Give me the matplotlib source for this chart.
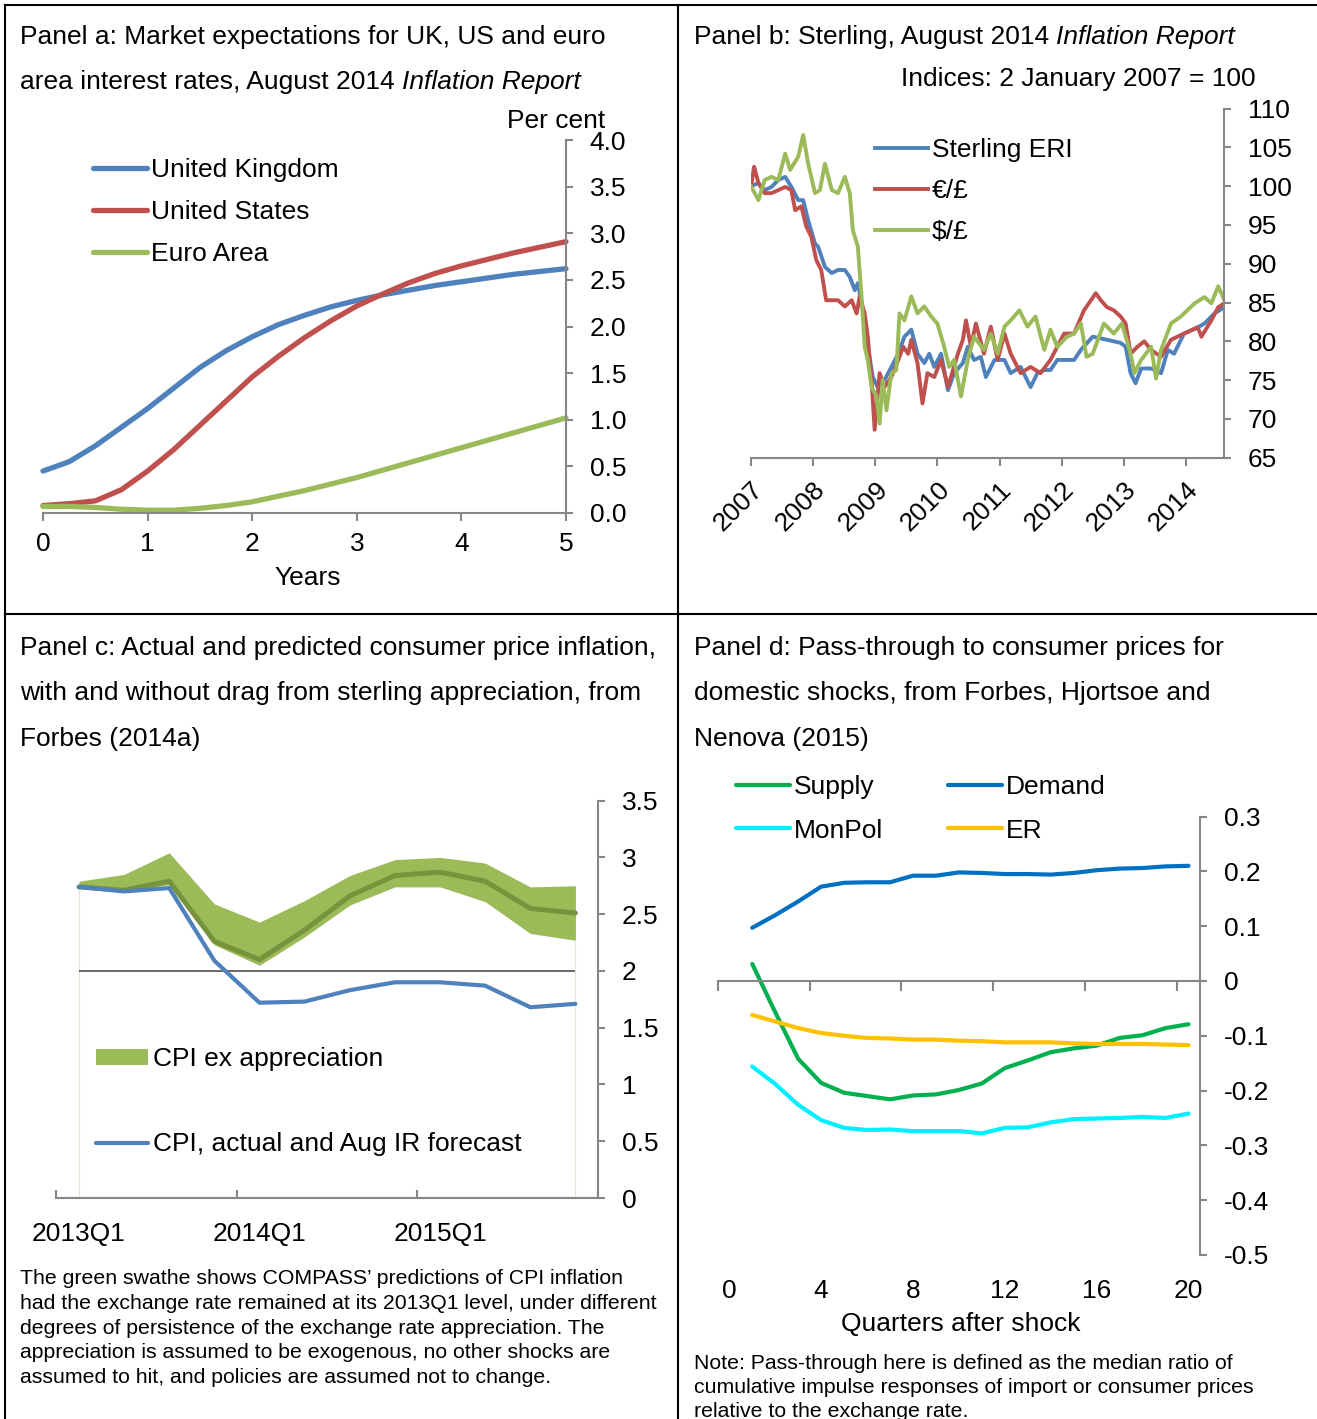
import matplotlib
matplotlib.use('Agg')
import matplotlib.pyplot as plt
from matplotlib.lines import Line2D
from matplotlib.ticker import FuncFormatter

plt.rcParams['font.family'] = ['Liberation Sans', 'DejaVu Sans']
plt.rcParams['axes.unicode_minus'] = False

# ---------------- data ----------------
# Panel a: market expectations (per cent), years ahead
years_a = [0, 0.25, 0.5, 0.75, 1, 1.25, 1.5, 1.75, 2, 2.25, 2.5, 2.75, 3,
           3.25, 3.5, 3.75, 4, 4.25, 4.5, 4.75, 5]
uk_rate = [0.45, 0.55, 0.72, 0.92, 1.12, 1.34, 1.56, 1.74, 1.89, 2.02, 2.12,
           2.21, 2.28, 2.34, 2.39, 2.44, 2.48, 2.52, 2.56, 2.59, 2.62]
us_rate = [0.08, 0.10, 0.13, 0.25, 0.45, 0.68, 0.94, 1.20, 1.46, 1.68, 1.88,
           2.06, 2.22, 2.35, 2.47, 2.57, 2.65, 2.72, 2.79, 2.85, 2.91]
ea_rate = [0.07, 0.07, 0.06, 0.04, 0.03, 0.03, 0.05, 0.08, 0.12, 0.18, 0.24,
           0.31, 0.38, 0.46, 0.54, 0.62, 0.70, 0.78, 0.86, 0.94, 1.02]

# Panel b: sterling indices (2 Jan 2007 = 100), decimal years
eri_t = [2007.00, 2007.12, 2007.22, 2007.33, 2007.44, 2007.55, 2007.65, 2007.76,
         2007.84, 2007.92, 2008.03, 2008.08, 2008.19, 2008.30, 2008.40, 2008.51,
         2008.59, 2008.67, 2008.72, 2008.80, 2008.88, 2008.96, 2009.04, 2009.15,
         2009.26, 2009.37, 2009.47, 2009.58, 2009.68, 2009.79, 2009.87, 2009.95,
         2010.06, 2010.17, 2010.27, 2010.41, 2010.49, 2010.59, 2010.70, 2010.78,
         2010.92, 2011.08, 2011.18, 2011.34, 2011.50, 2011.61, 2011.72, 2011.82,
         2011.93, 2012.09, 2012.20, 2012.31, 2012.50, 2012.73, 2012.95, 2013.03,
         2013.11, 2013.19, 2013.28, 2013.44, 2013.60, 2013.71, 2013.81, 2013.97,
         2014.19, 2014.30, 2014.46, 2014.62]
eri = [100.0, 100.4, 99.5, 99.9, 100.8, 101.2, 99.9, 98.2, 98.2, 95.6, 92.6, 92.2,
       89.6, 88.8, 89.2, 89.2, 88.3, 86.6, 87.5, 84.0, 79.3, 75.4, 74.1, 75.0,
       76.7, 78.4, 80.6, 81.5, 78.4, 77.2, 78.4, 76.7, 78.4, 73.7, 75.9, 77.2,
       79.3, 77.6, 78.0, 75.4, 77.6, 77.6, 75.9, 76.7, 74.1, 75.9, 76.3, 76.3,
       77.6, 77.6, 77.6, 78.9, 80.6, 80.2, 79.8, 79.3, 75.9, 74.6, 76.5, 76.5,
       75.9, 78.9, 78.4, 81.0, 81.8, 82.3, 83.6, 84.4]

eur_t = [2007.00, 2007.05, 2007.12, 2007.22, 2007.33, 2007.44, 2007.55, 2007.65,
         2007.71, 2007.81, 2007.89, 2007.97, 2008.05, 2008.13, 2008.21, 2008.30,
         2008.40, 2008.51, 2008.62, 2008.70, 2008.75, 2008.83, 2008.88, 2008.94,
         2008.99, 2009.07, 2009.15, 2009.26, 2009.37, 2009.45, 2009.53, 2009.58,
         2009.68, 2009.76, 2009.84, 2009.95, 2010.06, 2010.17, 2010.33, 2010.41,
         2010.46, 2010.54, 2010.62, 2010.75, 2010.86, 2010.97, 2011.08, 2011.18,
         2011.34, 2011.50, 2011.66, 2011.82, 2011.93, 2012.04, 2012.20, 2012.36,
         2012.55, 2012.63, 2012.73, 2012.84, 2012.95, 2013.03, 2013.11, 2013.22,
         2013.33, 2013.44, 2013.60, 2013.76, 2013.97, 2014.19, 2014.25, 2014.41,
         2014.52, 2014.62]
eur = [100.0, 102.5, 100.4, 99.1, 99.1, 99.5, 99.9, 99.5, 96.9, 97.4, 94.8, 93.5,
       90.5, 89.2, 85.3, 85.3, 85.3, 84.5, 85.3, 83.6, 85.8, 83.6, 80.6, 75.0,
       68.6, 75.9, 74.1, 75.4, 77.6, 79.3, 78.4, 80.2, 77.2, 72.0, 75.9, 75.4,
       77.6, 74.1, 78.4, 80.2, 82.7, 79.3, 82.3, 78.4, 81.9, 77.6, 81.0, 78.4,
       75.9, 76.7, 75.9, 77.6, 79.3, 81.0, 81.0, 84.0, 86.2, 85.3, 84.4, 84.0,
       83.2, 82.3, 78.4, 79.3, 80.0, 78.9, 78.0, 80.2, 81.0, 81.8, 80.6, 82.7,
       84.4, 84.9]

usd_t = [2007.00, 2007.12, 2007.22, 2007.33, 2007.44, 2007.55, 2007.63, 2007.76,
         2007.84, 2007.92, 2008.03, 2008.11, 2008.19, 2008.30, 2008.40, 2008.51,
         2008.59, 2008.64, 2008.72, 2008.78, 2008.83, 2008.88, 2008.94, 2009.02,
         2009.07, 2009.12, 2009.18, 2009.26, 2009.34, 2009.39, 2009.47, 2009.58,
         2009.68, 2009.79, 2009.90, 2010.00, 2010.11, 2010.19, 2010.27, 2010.38,
         2010.49, 2010.59, 2010.75, 2010.86, 2010.97, 2011.08, 2011.18, 2011.32,
         2011.45, 2011.58, 2011.72, 2011.82, 2011.93, 2012.09, 2012.20, 2012.31,
         2012.40, 2012.50, 2012.68, 2012.84, 2012.97, 2013.11, 2013.17, 2013.28,
         2013.44, 2013.52, 2013.60, 2013.76, 2013.92, 2014.14, 2014.30, 2014.41,
         2014.52, 2014.62]
usd = [100.0, 98.2, 100.8, 101.2, 100.8, 104.2, 102.1, 103.8, 106.6, 102.9, 99.1,
       99.5, 102.9, 99.5, 99.1, 101.2, 99.1, 94.3, 92.2, 85.7, 79.3, 77.6, 74.1,
       72.9, 69.4, 75.0, 71.1, 75.9, 76.3, 83.6, 82.7, 85.8, 83.6, 84.5, 83.2,
       82.3, 79.3, 76.7, 77.6, 72.9, 77.6, 80.6, 78.9, 81.0, 78.4, 81.9, 82.7,
       84.0, 81.9, 83.2, 78.9, 81.5, 79.3, 80.6, 81.0, 82.3, 78.0, 78.4, 82.3,
       81.0, 82.3, 78.4, 75.9, 77.6, 79.3, 75.2, 78.9, 82.3, 83.2, 84.9, 85.7,
       84.9, 87.1, 85.3]
year_ticks_b = [2007, 2008, 2009, 2010, 2011, 2012, 2013, 2014]

# Panel c: CPI inflation, 2013Q1 - 2015Q4
quarters_c = ['2013Q1', '2013Q2', '2013Q3', '2013Q4', '2014Q1', '2014Q2',
              '2014Q3', '2014Q4', '2015Q1', '2015Q2', '2015Q3', '2015Q4']
cpi_actual = [2.74, 2.70, 2.73, 2.09, 1.72, 1.73, 1.83, 1.90, 1.90, 1.87, 1.68, 1.71]
cpi_ex_mid = [2.74, 2.71, 2.79, 2.26, 2.10, 2.36, 2.66, 2.84, 2.87, 2.79, 2.55, 2.51]
cpi_ex_low = [2.73, 2.70, 2.76, 2.23, 2.05, 2.30, 2.58, 2.74, 2.74, 2.61, 2.33, 2.27]
cpi_ex_high = [2.79, 2.85, 3.04, 2.59, 2.43, 2.62, 2.84, 2.98, 3.00, 2.95, 2.74, 2.75]
inflation_target = 2.0

# Panel d: pass-through by quarter after shock
quarters_d = list(range(1, 21))
supply = [0.031, -0.057, -0.142, -0.186, -0.204, -0.210, -0.216, -0.209, -0.207, -0.199,
          -0.187, -0.159, -0.145, -0.130, -0.123, -0.118, -0.104, -0.099, -0.086, -0.079]
demand = [0.097, 0.120, 0.145, 0.172, 0.179, 0.180, 0.180, 0.192, 0.192, 0.198,
          0.197, 0.195, 0.195, 0.194, 0.197, 0.202, 0.205, 0.206, 0.209, 0.210]
monpol = [-0.156, -0.188, -0.226, -0.254, -0.268, -0.272, -0.271, -0.274, -0.274, -0.274,
          -0.278, -0.268, -0.267, -0.258, -0.252, -0.251, -0.250, -0.248, -0.250, -0.242]
er = [-0.062, -0.074, -0.086, -0.095, -0.100, -0.104, -0.105, -0.107, -0.107, -0.109,
      -0.110, -0.112, -0.112, -0.112, -0.114, -0.115, -0.115, -0.115, -0.116, -0.117]

# ---------------- layout helpers ----------------
W, H = 1317, 1419
FS = 19
NOTE_FS = 15.3
GREY = '#868686'


def fx(x):
    return x / W


def fy(y):
    return 1 - y / H


def box(x0, y0, x1, y1):
    return [fx(x0), fy(y1), (x1 - x0) / W, (y1 - y0) / H]


def style_axis(ax):
    for s in ['left', 'top']:
        ax.spines[s].set_visible(False)
    for s in ['right', 'bottom']:
        ax.spines[s].set_color(GREY)
        ax.spines[s].set_linewidth(1.5)
    ax.yaxis.tick_right()
    ax.tick_params(axis='both', which='both', colors=GREY, labelcolor='black',
                   labelsize=FS, width=1.5)
    ax.tick_params(axis='y', direction='out', length=5, pad=12)
    ax.patch.set_alpha(0)


fig = plt.figure(figsize=(W / 100, H / 100), dpi=100)
renderer = fig.canvas.get_renderer()


def text(x, y, s, **kw):
    kw.setdefault('fontsize', FS)
    return fig.text(fx(x), fy(y), s, va='baseline', **kw)


def mixed(x, y, normal, italic):
    t = text(x, y, normal)
    bb = t.get_window_extent(renderer)
    fig.text(bb.x1 / W, fy(y), italic, fontsize=FS, style='italic', va='baseline')


def legend(ax, x, y, **kw):
    opts = dict(loc='upper left', bbox_to_anchor=(fx(x), fy(y)),
                bbox_transform=fig.transFigure, frameon=False, fontsize=FS,
                handlelength=2.05, handletextpad=0.15, borderpad=0, borderaxespad=0)
    opts.update(kw)
    return ax.legend(**opts)


# panel borders
for (x0, y0, x1, y1) in [(5, 5, 1317, 5), (5, 5, 5, 1419), (678, 5, 678, 1419),
                         (5, 614, 1317, 614)]:
    fig.add_artist(Line2D([fx(x0), fx(x1)], [fy(y0), fy(y1)], color='black', lw=1.5,
                          transform=fig.transFigure))

# ---------------- panel a ----------------
ax = fig.add_axes(box(43, 140, 566, 513))
style_axis(ax)
ax.plot(years_a, uk_rate, color='#4F81BD', lw=3.8, label='United Kingdom',
        solid_capstyle='round', clip_on=False)
ax.plot(years_a, us_rate, color='#C0504D', lw=3.8, label='United States',
        solid_capstyle='round', clip_on=False)
ax.plot(years_a, ea_rate, color='#9BBB59', lw=3.8, label='Euro Area',
        solid_capstyle='round', clip_on=False)
ax.set_xlim(0, 5)
ax.set_ylim(0, 4)
ax.set_xticks(range(6))
ax.set_yticks([i * 0.5 for i in range(9)])
ax.yaxis.set_major_formatter(FuncFormatter(lambda v, p: f'{v:.1f}'))
ax.tick_params(axis='x', direction='out', length=6, pad=8)
legend(ax, 93, 158, labelspacing=0.68)
text(20, 44, 'Panel a: Market expectations for UK, US and euro')
mixed(20, 89, 'area interest rates, August 2014 ', 'Inflation Report')
text(507, 128, 'Per cent')
text(308, 585, 'Years', ha='center')

# ---------------- panel b ----------------
ax = fig.add_axes(box(751, 108.6, 1224.4, 457.7))
style_axis(ax)
ax.plot(eri_t, eri, color='#4F81BD', lw=2.8, label='Sterling ERI')
ax.plot(eur_t, eur, color='#C0504D', lw=2.8, label='€/£')
ax.plot(usd_t, usd, color='#9BBB59', lw=2.8, label='$/£')
ax.set_xlim(2007, 2014.62)
ax.set_ylim(65, 110)
ax.set_yticks(range(65, 111, 5))
ax.set_xticks(year_ticks_b)
ax.set_xticklabels([str(y) for y in year_ticks_b], rotation=45, ha='right',
                   va='top', rotation_mode='anchor')
ax.tick_params(axis='x', direction='out', length=6, pad=8)
legend(ax, 875, 138, handlelength=2.0, labelspacing=0.64)
mixed(694, 44, 'Panel b: Sterling, August 2014 ', 'Inflation Report')
text(1256, 86, 'Indices: 2 January 2007 = 100', ha='right')

# ---------------- panel c ----------------
ax = fig.add_axes(box(56.4, 800.6, 598, 1198))
style_axis(ax)
xc = list(range(len(quarters_c)))
ax.vlines([xc[0], xc[-1]], 0, [cpi_ex_low[0], cpi_ex_low[-1]], color='#e4e4d4', lw=0.8)
band = ax.fill_between(xc, cpi_ex_low, cpi_ex_high, color='#9BBB59', lw=0,
                       label='CPI ex appreciation')
ax.hlines(inflation_target, xc[0], xc[-1], color='#404040', lw=1.1)
ax.plot(xc, cpi_ex_mid, color='#77933C', lw=3.6, solid_capstyle='round')
actual, = ax.plot(xc, cpi_actual, color='#4F81BD', lw=3.0, solid_capstyle='round',
                  label='CPI, actual and Aug IR forecast')
ax.set_xlim(-0.5, 11.5)
ax.set_ylim(0, 3.5)
ax.set_yticks([i * 0.5 for i in range(8)])
ax.yaxis.set_major_formatter(FuncFormatter(lambda v, p: f'{v:g}'))
ax.set_xticks([0, 4, 8])
ax.set_xticklabels([quarters_c[0], quarters_c[4], quarters_c[8]])
ax.set_xticks([-0.5, 3.5, 7.5, 11.5], minor=True)
ax.tick_params(axis='x', which='major', length=0, pad=17)
ax.tick_params(axis='x', which='minor', direction='in', length=6)
legend(ax, 96, 1047, handles=[band, actual], handlelength=1.97, handleheight=0.55,
       handletextpad=0.2, labelspacing=2.33)
for i, line in enumerate(['Panel c: Actual and predicted consumer price inflation,',
                          'with and without drag from sterling appreciation, from',
                          'Forbes (2014a)']):
    text(20, 655 + 45.5 * i, line)
for i, line in enumerate(['The green swathe shows COMPASS’ predictions of CPI inflation',
                          'had the exchange rate remained at its 2013Q1 level, under different',
                          'degrees of persistence of the exchange rate appreciation. The',
                          'appreciation is assumed to be exogenous, no other shocks are',
                          'assumed to hit, and policies are assumed not to change.']):
    text(20, 1284 + 24.75 * i, line, fontsize=NOTE_FS)

# ---------------- panel d ----------------
ax = fig.add_axes(box(717.8, 816.5, 1200, 1255))
style_axis(ax)
ax.spines['bottom'].set_position(('data', 0))
ax.plot(quarters_d, supply, color='#00B050', lw=3.0, label='Supply', solid_capstyle='round')
ax.plot(quarters_d, monpol, color='#00F0FF', lw=3.0, label='MonPol', solid_capstyle='round')
ax.plot(quarters_d, demand, color='#0070C0', lw=3.0, label='Demand', solid_capstyle='round')
ax.plot(quarters_d, er, color='#FFC000', lw=3.0, label='ER', solid_capstyle='round')
ax.set_xlim(-0.5, 20.5)
ax.set_ylim(-0.5, 0.3)
ax.set_yticks([-0.5 + 0.1 * i for i in range(9)])
ax.yaxis.set_major_formatter(FuncFormatter(lambda v, p: '0' if abs(v) < 1e-9 else f'{v:.1f}'))
ax.set_xticks([])
ax.set_xticks([-0.5 + 4 * i for i in range(6)], minor=True)
ax.tick_params(axis='x', which='minor', direction='out', length=7)
sec = ax.secondary_xaxis('bottom')
sec.set_xticks(range(0, 21, 4))
sec.tick_params(length=0, pad=17, labelsize=FS)
sec.spines['bottom'].set_visible(False)
legend(ax, 736, 775, ncol=2, labelspacing=0.74, columnspacing=2.45)
for i, line in enumerate(['Panel d: Pass-through to consumer prices for',
                          'domestic shocks, from Forbes, Hjortsoe and',
                          'Nenova (2015)']):
    text(694, 655 + 45.5 * i, line)
text(961, 1331, 'Quarters after shock', ha='center')
for i, line in enumerate(['Note: Pass-through here is defined as the median ratio of',
                          'cumulative impulse responses of import or consumer prices',
                          'relative to the exchange rate.']):
    text(694, 1369 + 24 * i, line, fontsize=NOTE_FS)

fig.savefig('out.png', dpi=100)
